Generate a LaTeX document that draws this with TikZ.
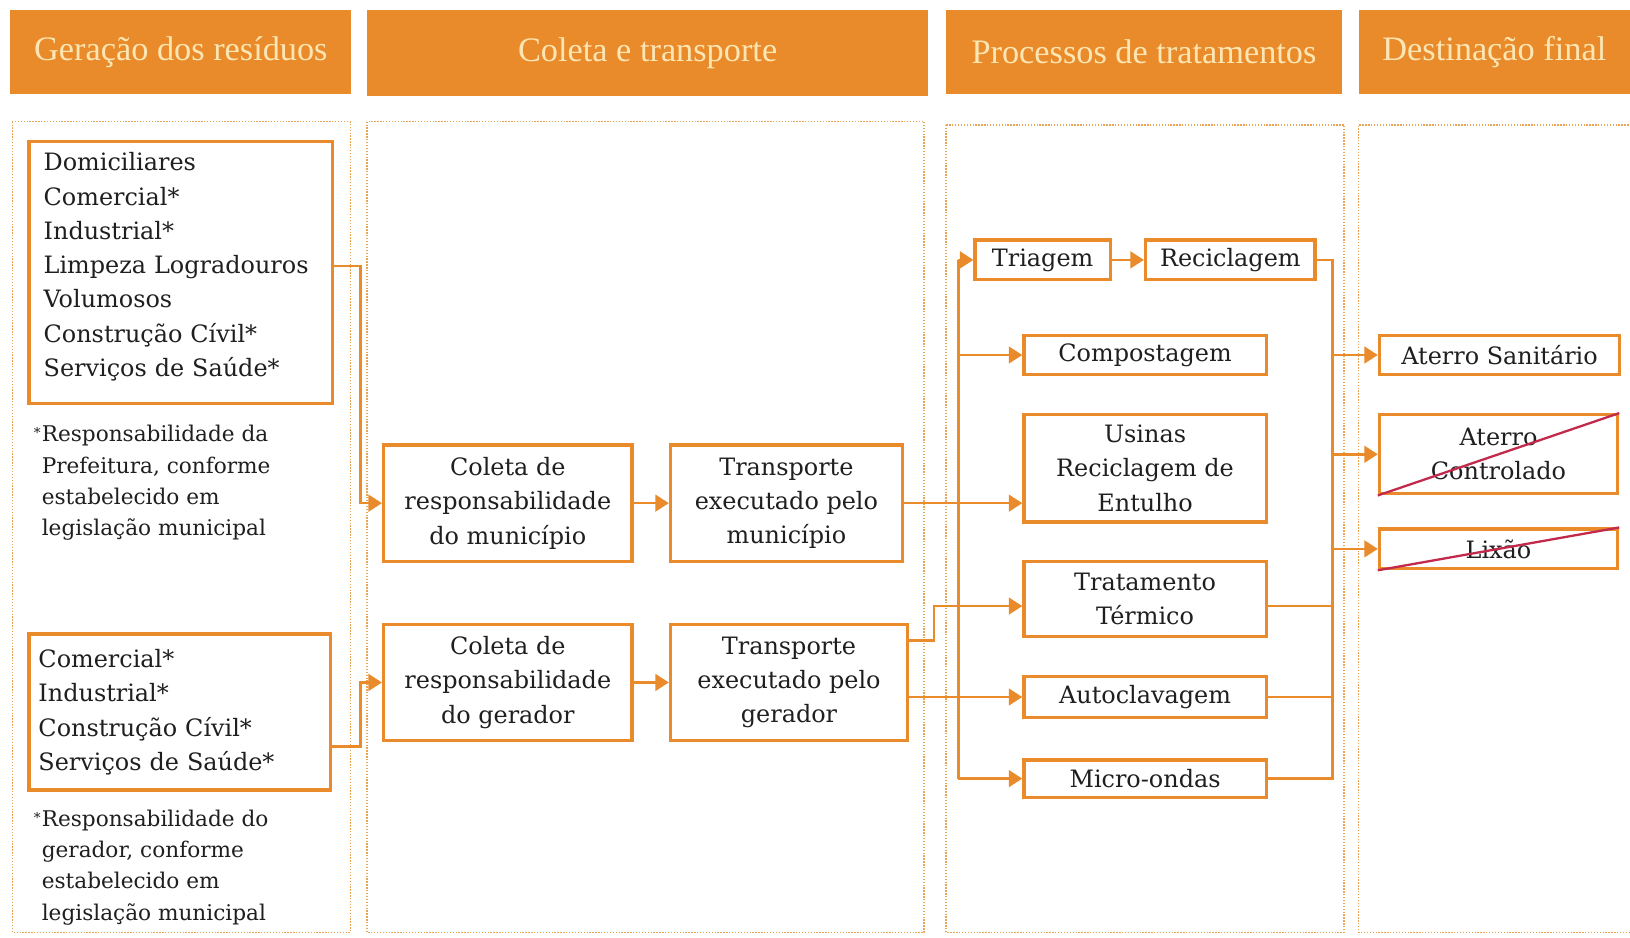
\documentclass[tikz,border=0pt]{standalone}
\usepackage{fontspec}
\setmainfont{DejaVu Serif}
\newfontfamily\hdfont{Liberation Serif}
\usetikzlibrary{arrows.meta,calc}
\definecolor{orng}{HTML}{E98B2A}
\definecolor{hdtxt}{HTML}{FDE6B4}
\definecolor{dots}{HTML}{E9A456}
\definecolor{strike}{HTML}{C2294B}
\definecolor{txt}{HTML}{1F1F1F}
\begin{document}
\begin{tikzpicture}[x=1pt,y=-1pt,
 hdr/.style={fill=orng, text=hdtxt, font=\hdfont\fontsize{33}{36}\selectfont, inner sep=0pt},
 frame/.style={draw=dots, line width=1.5pt, dash pattern=on 1.3pt off 1.5pt},
 box/.style={draw=orng, line width=3.2pt, fill=white, text=txt, font=\fontsize{23}{33}\selectfont, inner sep=0pt, align=center},
 note/.style={text=txt, font=\fontsize{20.8}{30}\selectfont, inner sep=0pt, align=left, anchor=north west},
 link/.style={draw=orng, line width=2.6pt},
 arr/.style={link, -{Triangle[length=13pt,width=16pt]}},
 strikeline/.style={draw=strike, line width=2.2pt},
]
\useasboundingbox (0,0) rectangle (1568,902);
\fill[white] (0,0) rectangle (1568,902);

% headers
\node[hdr, minimum width=328pt, minimum height=80pt] (h1) at (174,50) {Geração dos resíduos};
\node[hdr, minimum width=540pt, minimum height=82pt] (h2) at (623,51) {Coleta e transporte};
\node[hdr, minimum width=381pt, minimum height=80pt] (h3) at (1100.5,50) {Processos de tratamentos};
\node[hdr, minimum width=261pt, minimum height=80pt] (h4) at (1437.5,50) {Destinação final};

% dotted column frames
\draw[frame] (12,117) rectangle (337,897);
\draw[frame] (353,117) rectangle (889,897);
\draw[frame] (910,120) rectangle (1293,897);
\draw[frame] (1575,120) -- (1307,120) -- (1307,897) -- (1575,897);

% generation
\node[box, align=left, text width=264pt, inner xsep=14pt, minimum height=252pt] (b1) at (174,262)
 {Domiciliares\\Comercial*\\Industrial*\\Limpeza Logradouros\\Volumosos\\Construção Cívil*\\Serviços de Saúde*\rule[-15pt]{0pt}{15pt}};
\node[box, align=left, text width=272pt, inner xsep=9pt, minimum height=150pt] (b2) at (173,685)
 {Comercial*\\Industrial*\\Construção Cívil*\\Serviços de Saúde*};
\node[note] (n1) at (40,409) {\llap{\raisebox{4pt}{\fontsize{13}{13}\selectfont *}\hspace{1pt}}Responsabilidade da\\Prefeitura, conforme\\estabelecido em\\legislação municipal};
\node[note] (n2) at (40,779) {\llap{\raisebox{4pt}{\fontsize{13}{13}\selectfont *}\hspace{1pt}}Responsabilidade do\\gerador, conforme\\estabelecido em\\legislação municipal};

% collection and transport
\node[box, minimum width=239pt, minimum height=112pt] (cm) at (488.5,484) {Coleta de\\responsabilidade\\do município};
\node[box, minimum width=223pt, minimum height=112pt] (tm) at (756.5,484) {Transporte\\executado pelo\\município};
\node[box, minimum width=239pt, minimum height=111pt] (cg) at (488.5,656.5) {Coleta de\\responsabilidade\\do gerador};
\node[box, minimum width=228pt, minimum height=111pt] (tg) at (759,656.5) {Transporte\\executado pelo\\gerador};

% treatment
\node[box, minimum width=130pt, minimum height=38pt] (tri) at (1003,250) {Triagem};
\node[box, minimum width=163pt, minimum height=38pt] (rec) at (1183.5,250) {Reciclagem};
\node[box, minimum width=233pt, minimum height=37pt] (comp) at (1101.5,341.5) {Compostagem};
\node[box, minimum width=233pt, minimum height=103pt] (usi) at (1101.5,450.5) {Usinas\\Reciclagem de\\Entulho};
\node[box, minimum width=233pt, minimum height=72pt] (tt) at (1101.5,576) {Tratamento\\Térmico};
\node[box, minimum width=233pt, minimum height=39pt] (acl) at (1101.5,670.5) {Autoclavagem};
\node[box, minimum width=233pt, minimum height=36pt] (micro) at (1101.5,749) {Micro-ondas};

% final destination
\node[box, minimum width=231pt, minimum height=37pt] (as) at (1442.5,341.5) {Aterro Sanitário};
\node[box, minimum width=229pt, minimum height=76pt] (ac) at (1441.5,437) {Aterro\\Controlado};
\node[box, minimum width=229pt, minimum height=38pt] (lix) at (1441.5,528) {Lixão};
\draw[strikeline] (ac.south west) -- (ac.north east);
\draw[strikeline] (lix.south west) -- (lix.north east);

% connectors
\draw[arr] ([yshift=6pt]b1.east) -- ++(25,0) |- (cm.west);
\draw[arr] ([yshift=-33pt]b2.east) -- ++(27,0) |- (cg.west);
\draw[arr] (cm) -- (tm);
\draw[arr] (cg) -- (tg);
\draw[arr] (tm.east) -- (tm.east -| usi.west);
\coordinate (bl1) at (922,250);
\coordinate (bl2) at (922,749);
\draw[link] (bl1) -- (bl2);
\draw[arr] (bl1) -- (tri.west);
\draw[arr] (bl1 |- comp.west) -- (comp.west);
\draw[arr] (bl2) -- (micro.west);
\draw[arr] ([yshift=40.5pt]tg.east) -- ++(24,0) |- ([yshift=-7pt]tt.west);
\draw[arr] (tg.east |- acl.west) -- (acl.west);
\draw[arr] (tri) -- (rec);
\coordinate (br1) at (1282,250);
\coordinate (br2) at (1282,749);
\draw[link] (rec.east) -- (br1) -- (br2) -- (micro.east);
\draw[link] ([yshift=-7pt]tt.east) -- ([yshift=-7pt]tt.east -| br1);
\draw[link, line width=1.4pt] (acl.east) -- (acl.east -| br1);
\draw[arr] (br1 |- as.west) -- (as.west);
\draw[arr] (br1 |- ac.west) -- (ac.west);
\draw[arr] (br1 |- lix.west) -- (lix.west);
\end{tikzpicture}
\end{document}
